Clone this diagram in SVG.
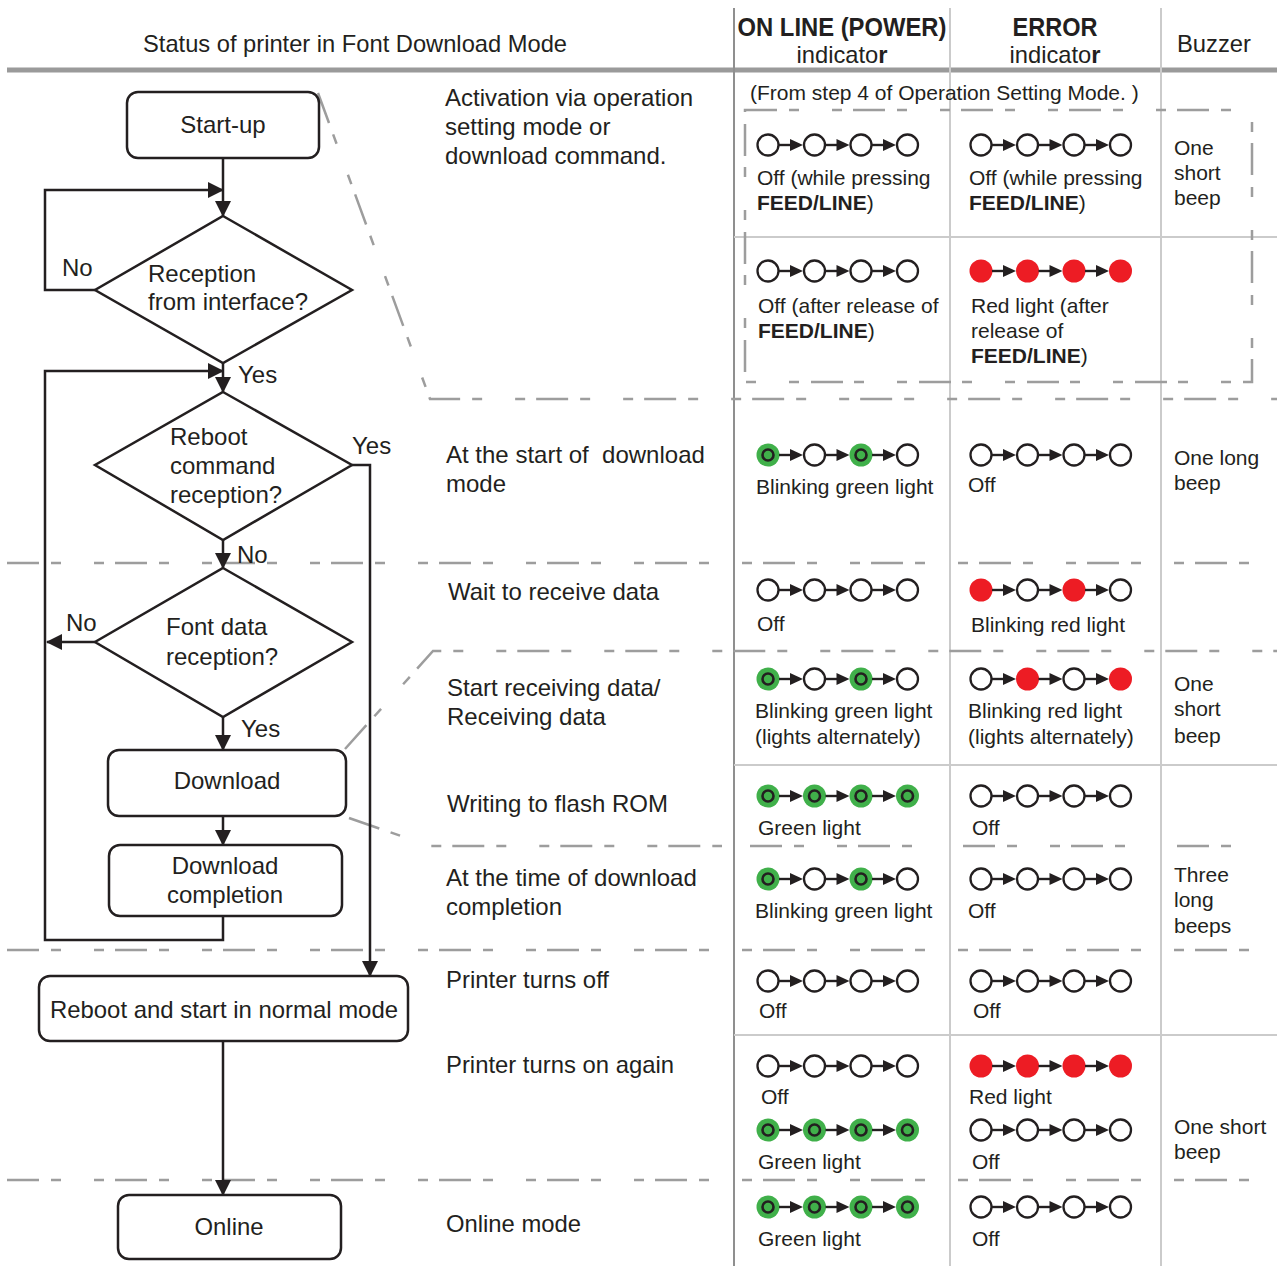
<svg xmlns="http://www.w3.org/2000/svg" xmlns:xlink="http://www.w3.org/1999/xlink" width="1277" height="1266" viewBox="0 0 1277 1266">
<style>
text{font-family:"Liberation Sans",Arial,sans-serif;fill:#231f20}
.t24{font-size:24px}
.t21{font-size:21px}
.b{font-weight:bold}
.mid{text-anchor:middle}
.node{fill:#fff;stroke:#231f20;stroke-width:2.5}
.conn{fill:none;stroke:#231f20;stroke-width:2.5}
.dash{fill:none;stroke:#9d9d9d;stroke-width:2.5;stroke-dasharray:32 12 10 33 10 11}
.grid{fill:none;stroke:#cbcbcb;stroke-width:2}
</style>
<defs>
<marker id="ah" markerUnits="userSpaceOnUse" markerWidth="16" markerHeight="16" refX="15" refY="8" orient="auto">
<path d="M0,0 L16,8 L0,16 z" fill="#231f20"/>
</marker>
<g id="off"><circle r="10.5" fill="#fff" stroke="#231f20" stroke-width="2.3"/></g>
<g id="red"><circle r="11.5" fill="#ed1c24"/></g>
<g id="grn"><circle r="11.5" fill="#40b04a"/><circle r="5.5" fill="none" stroke="#231f20" stroke-width="2.6"/></g>
<g id="arr"><line x1="11" y1="0" x2="24" y2="0" stroke="#231f20" stroke-width="2.4"/><polygon points="22,-6 35,0 22,6" fill="#231f20"/></g>
</defs>

<!-- table grid -->
<g id="grid">
<line x1="7" y1="70" x2="1277" y2="70" stroke="#9a9a9a" stroke-width="5"/>
<line x1="734" y1="8" x2="734" y2="1266" stroke="#8f8f8f" stroke-width="2"/>
<line class="grid" x1="950" y1="8" x2="950" y2="1266"/>
<line class="grid" x1="1161" y1="8" x2="1161" y2="1266"/>
<line class="grid" x1="734" y1="237" x2="1277" y2="237"/>
<line class="grid" x1="734" y1="765" x2="1277" y2="765"/>
<line class="grid" x1="734" y1="1035" x2="1277" y2="1035"/>
<polyline class="dash" points="318,93 430,399 1277,399"/>
<line class="dash" x1="7" y1="563" x2="1277" y2="563"/>
<polyline class="dash" points="345,749 433,651 1277,651"/>
<polyline class="dash" points="349,818 430,846 722,846"/>
<line class="dash" x1="750" y1="846" x2="932" y2="846"/>
<line class="dash" x1="963" y1="846" x2="1143" y2="846"/>
<line class="dash" x1="1177" y1="846" x2="1252" y2="846"/>
<line class="dash" x1="7" y1="950" x2="1277" y2="950"/>
<line class="dash" x1="7" y1="1180" x2="1277" y2="1180"/>
<rect class="dash" x="745" y="110" width="507" height="272"/>
</g>

<!-- header -->
<g id="header">
<text class="t24" x="143" y="52" textLength="424" lengthAdjust="spacingAndGlyphs">Status of printer in Font Download Mode</text>
<text class="b mid" style="font-size:25px" x="842" y="36" textLength="209" lengthAdjust="spacingAndGlyphs">ON LINE (POWER)</text>
<text class="t24 mid" x="842" y="63" textLength="91" lengthAdjust="spacingAndGlyphs">indicato<tspan class="b">r</tspan></text>
<text class="b mid" style="font-size:25px" x="1055" y="36" textLength="85" lengthAdjust="spacingAndGlyphs">ERROR</text>
<text class="t24 mid" x="1055" y="63" textLength="91" lengthAdjust="spacingAndGlyphs">indicato<tspan class="b">r</tspan></text>
<text class="t24" x="1177" y="52" textLength="74" lengthAdjust="spacingAndGlyphs">Buzzer</text>
</g>

<!-- flowchart nodes -->
<g id="n-startup"><rect class="node" x="127" y="92" width="192" height="66" rx="11"/><text class="t24 mid" x="223" y="133">Start-up</text></g>
<g id="n-reception"><polygon class="node" points="223,216 352,290 223,363 95,290"/><text class="t24" x="148" y="282">Reception</text><text class="t24" x="148" y="310">from interface?</text></g>
<g id="n-reboot-cmd"><polygon class="node" points="223,392 352,465 223,540 95,465"/><text class="t24" x="170" y="445">Reboot</text><text class="t24" x="170" y="474">command</text><text class="t24" x="170" y="503">reception?</text></g>
<g id="n-fontdata"><polygon class="node" points="223,568 352,642 223,717 95,642"/><text class="t24" x="166" y="635">Font data</text><text class="t24" x="166" y="665">reception?</text></g>
<g id="n-download"><rect class="node" x="108" y="750" width="238" height="66" rx="11"/><text class="t24 mid" x="227" y="789">Download</text></g>
<g id="n-complete"><rect class="node" x="109" y="845" width="233" height="71" rx="11"/><text class="t24 mid" x="225" y="874">Download</text><text class="t24 mid" x="225" y="903">completion</text></g>
<g id="n-rebootnormal"><rect class="node" x="39" y="976" width="369" height="65" rx="11"/><text class="t24" x="50" y="1018" textLength="348" lengthAdjust="spacingAndGlyphs">Reboot and start in normal mode</text></g>
<g id="n-online"><rect class="node" x="118" y="1195" width="223" height="64" rx="11"/><text class="t24 mid" x="229" y="1235" textLength="69" lengthAdjust="spacingAndGlyphs">Online</text></g>

<!-- connectors -->
<g id="connectors">
<line class="conn" x1="223" y1="158" x2="223" y2="216" marker-end="url(#ah)"/>
<polyline class="conn" points="95,290 45,290 45,190 223,190" marker-end="url(#ah)"/>
<line class="conn" x1="223" y1="363" x2="223" y2="392" marker-end="url(#ah)"/>
<polyline class="conn" points="223,916 223,940 45,940 45,371 223,371" marker-end="url(#ah)"/>
<line class="conn" x1="223" y1="540" x2="223" y2="568" marker-end="url(#ah)"/>
<line class="conn" x1="95" y1="642" x2="47" y2="642" marker-end="url(#ah)"/>
<line class="conn" x1="223" y1="717" x2="223" y2="750" marker-end="url(#ah)"/>
<line class="conn" x1="223" y1="816" x2="223" y2="845" marker-end="url(#ah)"/>
<polyline class="conn" points="352,465 370,465 370,976" marker-end="url(#ah)"/>
<line class="conn" x1="223" y1="1041" x2="223" y2="1195" marker-end="url(#ah)"/>
<text class="t24" x="62" y="276">No</text>
<text class="t24" x="238" y="383">Yes</text>
<text class="t24" x="352" y="454">Yes</text>
<text class="t24" x="237" y="563">No</text>
<text class="t24" x="66" y="631">No</text>
<text class="t24" x="241" y="737">Yes</text>
</g>

<!-- status descriptions -->
<g id="status">
<text class="t24" x="445" y="106">Activation via operation</text>
<text class="t24" x="445" y="135">setting mode or</text>
<text class="t24" x="445" y="164">download command.</text>
<text class="t24" x="446" y="463" xml:space="preserve">At the start of  download</text>
<text class="t24" x="446" y="492">mode</text>
<text class="t24" x="448" y="600">Wait to receive data</text>
<text class="t24" x="447" y="696">Start receiving data/</text>
<text class="t24" x="447" y="725">Receiving data</text>
<text class="t24" x="447" y="812">Writing to flash ROM</text>
<text class="t24" x="446" y="886">At the time of download</text>
<text class="t24" x="446" y="915">completion</text>
<text class="t24" x="446" y="988" textLength="163" lengthAdjust="spacingAndGlyphs">Printer turns off</text>
<text class="t24" x="446" y="1073" textLength="228" lengthAdjust="spacingAndGlyphs">Printer turns on again</text>
<text class="t24" x="446" y="1232" textLength="135" lengthAdjust="spacingAndGlyphs">Online mode</text>
</g>

<!-- LED sequences: ON LINE column -->
<g id="led-online">
<g transform="translate(768,145)"><use href="#off"/><use href="#arr"/><use href="#off" x="46.5"/><use href="#arr" x="46.5"/><use href="#off" x="93"/><use href="#arr" x="93"/><use href="#off" x="139.5"/></g>
<g transform="translate(768,271)"><use href="#off"/><use href="#arr"/><use href="#off" x="46.5"/><use href="#arr" x="46.5"/><use href="#off" x="93"/><use href="#arr" x="93"/><use href="#off" x="139.5"/></g>
<g transform="translate(768,455)"><use href="#grn"/><use href="#arr"/><use href="#off" x="46.5"/><use href="#arr" x="46.5"/><use href="#grn" x="93"/><use href="#arr" x="93"/><use href="#off" x="139.5"/></g>
<g transform="translate(768,590)"><use href="#off"/><use href="#arr"/><use href="#off" x="46.5"/><use href="#arr" x="46.5"/><use href="#off" x="93"/><use href="#arr" x="93"/><use href="#off" x="139.5"/></g>
<g transform="translate(768,679)"><use href="#grn"/><use href="#arr"/><use href="#off" x="46.5"/><use href="#arr" x="46.5"/><use href="#grn" x="93"/><use href="#arr" x="93"/><use href="#off" x="139.5"/></g>
<g transform="translate(768,796)"><use href="#grn"/><use href="#arr"/><use href="#grn" x="46.5"/><use href="#arr" x="46.5"/><use href="#grn" x="93"/><use href="#arr" x="93"/><use href="#grn" x="139.5"/></g>
<g transform="translate(768,879)"><use href="#grn"/><use href="#arr"/><use href="#off" x="46.5"/><use href="#arr" x="46.5"/><use href="#grn" x="93"/><use href="#arr" x="93"/><use href="#off" x="139.5"/></g>
<g transform="translate(768,981)"><use href="#off"/><use href="#arr"/><use href="#off" x="46.5"/><use href="#arr" x="46.5"/><use href="#off" x="93"/><use href="#arr" x="93"/><use href="#off" x="139.5"/></g>
<g transform="translate(768,1066)"><use href="#off"/><use href="#arr"/><use href="#off" x="46.5"/><use href="#arr" x="46.5"/><use href="#off" x="93"/><use href="#arr" x="93"/><use href="#off" x="139.5"/></g>
<g transform="translate(768,1130)"><use href="#grn"/><use href="#arr"/><use href="#grn" x="46.5"/><use href="#arr" x="46.5"/><use href="#grn" x="93"/><use href="#arr" x="93"/><use href="#grn" x="139.5"/></g>
<g transform="translate(768,1207)"><use href="#grn"/><use href="#arr"/><use href="#grn" x="46.5"/><use href="#arr" x="46.5"/><use href="#grn" x="93"/><use href="#arr" x="93"/><use href="#grn" x="139.5"/></g>
</g>

<!-- LED sequences: ERROR column -->
<g id="led-error">
<g transform="translate(981,145)"><use href="#off"/><use href="#arr"/><use href="#off" x="46.5"/><use href="#arr" x="46.5"/><use href="#off" x="93"/><use href="#arr" x="93"/><use href="#off" x="139.5"/></g>
<g transform="translate(981,271)"><use href="#red"/><use href="#arr"/><use href="#red" x="46.5"/><use href="#arr" x="46.5"/><use href="#red" x="93"/><use href="#arr" x="93"/><use href="#red" x="139.5"/></g>
<g transform="translate(981,455)"><use href="#off"/><use href="#arr"/><use href="#off" x="46.5"/><use href="#arr" x="46.5"/><use href="#off" x="93"/><use href="#arr" x="93"/><use href="#off" x="139.5"/></g>
<g transform="translate(981,590)"><use href="#red"/><use href="#arr"/><use href="#off" x="46.5"/><use href="#arr" x="46.5"/><use href="#red" x="93"/><use href="#arr" x="93"/><use href="#off" x="139.5"/></g>
<g transform="translate(981,679)"><use href="#off"/><use href="#arr"/><use href="#red" x="46.5"/><use href="#arr" x="46.5"/><use href="#off" x="93"/><use href="#arr" x="93"/><use href="#red" x="139.5"/></g>
<g transform="translate(981,796)"><use href="#off"/><use href="#arr"/><use href="#off" x="46.5"/><use href="#arr" x="46.5"/><use href="#off" x="93"/><use href="#arr" x="93"/><use href="#off" x="139.5"/></g>
<g transform="translate(981,879)"><use href="#off"/><use href="#arr"/><use href="#off" x="46.5"/><use href="#arr" x="46.5"/><use href="#off" x="93"/><use href="#arr" x="93"/><use href="#off" x="139.5"/></g>
<g transform="translate(981,981)"><use href="#off"/><use href="#arr"/><use href="#off" x="46.5"/><use href="#arr" x="46.5"/><use href="#off" x="93"/><use href="#arr" x="93"/><use href="#off" x="139.5"/></g>
<g transform="translate(981,1066)"><use href="#red"/><use href="#arr"/><use href="#red" x="46.5"/><use href="#arr" x="46.5"/><use href="#red" x="93"/><use href="#arr" x="93"/><use href="#red" x="139.5"/></g>
<g transform="translate(981,1130)"><use href="#off"/><use href="#arr"/><use href="#off" x="46.5"/><use href="#arr" x="46.5"/><use href="#off" x="93"/><use href="#arr" x="93"/><use href="#off" x="139.5"/></g>
<g transform="translate(981,1207)"><use href="#off"/><use href="#arr"/><use href="#off" x="46.5"/><use href="#arr" x="46.5"/><use href="#off" x="93"/><use href="#arr" x="93"/><use href="#off" x="139.5"/></g>
</g>

<!-- indicator labels -->
<g id="labels-online">
<text class="t21" x="750" y="100">(From step 4 of Operation Setting Mode. )</text>
<text class="t21" x="757" y="185">Off (while pressing</text>
<text class="t21" x="757" y="210"><tspan class="b">FEED/LINE</tspan>)</text>
<text class="t21" x="758" y="313">Off (after release of</text>
<text class="t21" x="758" y="338"><tspan class="b">FEED/LINE</tspan>)</text>
<text class="t21" x="756" y="494">Blinking green light</text>
<text class="t21" x="757" y="631">Off</text>
<text class="t21" x="755" y="718">Blinking green light</text>
<text class="t21" x="755" y="744">(lights alternately)</text>
<text class="t21" x="758" y="835">Green light</text>
<text class="t21" x="755" y="918">Blinking green light</text>
<text class="t21" x="759" y="1018">Off</text>
<text class="t21" x="761" y="1104">Off</text>
<text class="t21" x="758" y="1169">Green light</text>
<text class="t21" x="758" y="1246">Green light</text>
</g>
<g id="labels-error">
<text class="t21" x="969" y="185">Off (while pressing</text>
<text class="t21" x="969" y="210"><tspan class="b">FEED/LINE</tspan>)</text>
<text class="t21" x="971" y="313">Red light (after</text>
<text class="t21" x="971" y="338">release of</text>
<text class="t21" x="971" y="363"><tspan class="b">FEED/LINE</tspan>)</text>
<text class="t21" x="968" y="492">Off</text>
<text class="t21" x="971" y="632">Blinking red light</text>
<text class="t21" x="968" y="718">Blinking red light</text>
<text class="t21" x="968" y="744">(lights alternately)</text>
<text class="t21" x="972" y="835">Off</text>
<text class="t21" x="968" y="918">Off</text>
<text class="t21" x="973" y="1018">Off</text>
<text class="t21" x="969" y="1104">Red light</text>
<text class="t21" x="972" y="1169">Off</text>
<text class="t21" x="972" y="1246">Off</text>
</g>
<g id="labels-buzzer">
<text class="t21" x="1174" y="155">One</text>
<text class="t21" x="1174" y="180">short</text>
<text class="t21" x="1174" y="205">beep</text>
<text class="t21" x="1174" y="465">One long</text>
<text class="t21" x="1174" y="490">beep</text>
<text class="t21" x="1174" y="691">One</text>
<text class="t21" x="1174" y="716">short</text>
<text class="t21" x="1174" y="743">beep</text>
<text class="t21" x="1174" y="882">Three</text>
<text class="t21" x="1174" y="907">long</text>
<text class="t21" x="1174" y="933">beeps</text>
<text class="t21" x="1174" y="1134">One short</text>
<text class="t21" x="1174" y="1159">beep</text>
</g>
</svg>
